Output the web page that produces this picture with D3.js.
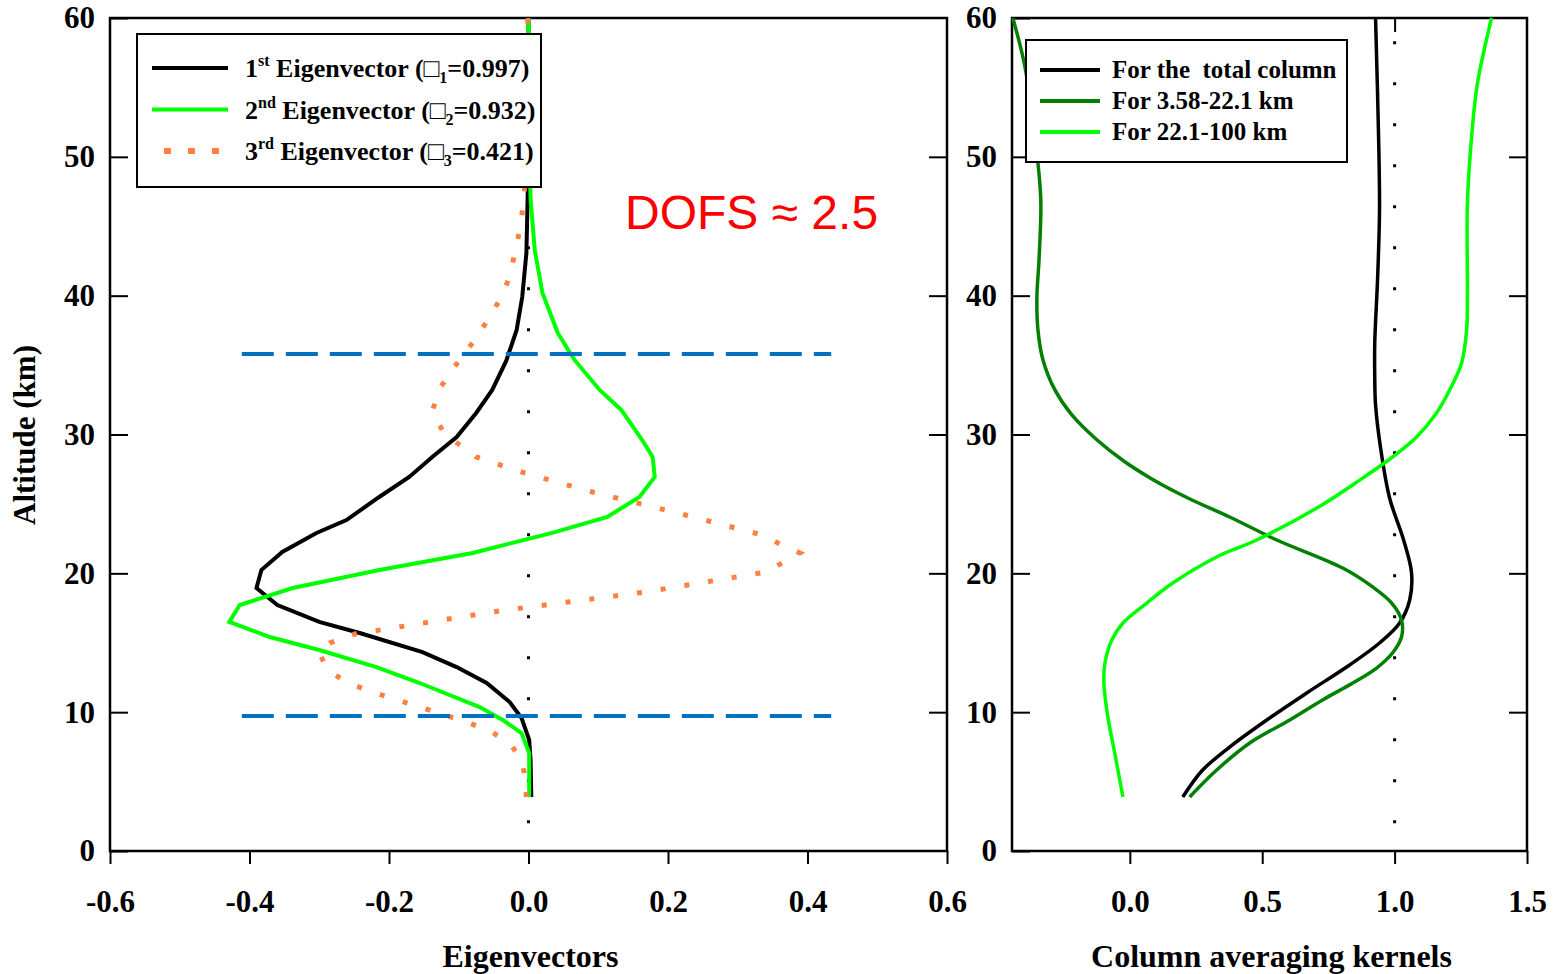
<!DOCTYPE html>
<html>
<head>
<meta charset="utf-8">
<script src="https://cdn.jsdelivr.net/npm/d3@7"></script>
<style>
  body { margin: 0; background: #fff; }
  svg { display: block; }
  .serif { font-family: 'Liberation Serif', 'Times New Roman', serif; font-weight: bold; }
</style>
</head>
<body>
<div id="chart"></div>
<script>
// eigenvectors, [value, altitude km]
const ev1 = [[0.004, 3.89], [0.003, 6.55], [0.001, 8.0], [-0.010, 9.58], [-0.027, 10.73], [-0.060, 12.10],
  [-0.103, 13.25], [-0.152, 14.33], [-0.242, 15.70], [-0.300, 16.50], [-0.360, 17.72], [-0.390, 18.94],
  [-0.383, 20.24], [-0.353, 21.54], [-0.304, 22.91], [-0.261, 23.84], [-0.214, 25.50], [-0.171, 26.94],
  [-0.138, 28.38], [-0.103, 29.82], [-0.075, 31.55], [-0.052, 33.21], [-0.032, 35.30], [-0.017, 37.53],
  [-0.009, 39.90], [-0.003, 43.07], [-0.001, 47.61], [0.0, 51.2], [0.0, 60]]
const ev2 = [[0.001, 3.89], [0.001, 7.06], [-0.010, 8.50], [-0.037, 9.44], [-0.070, 10.37], [-0.156, 12.10],
  [-0.218, 13.25], [-0.300, 14.48], [-0.371, 15.41], [-0.429, 16.50], [-0.414, 17.72], [-0.338, 18.94],
  [-0.214, 20.24], [-0.080, 21.47], [0.034, 22.91], [0.113, 24.06], [0.159, 25.50], [0.181, 26.94],
  [0.178, 28.38], [0.163, 29.60], [0.133, 31.77], [0.102, 33.21], [0.066, 35.37], [0.042, 37.31],
  [0.020, 40.19], [0.009, 43.29], [0.003, 46.89], [0.001, 50.49], [0.0, 60]]
const ev3 = [[-0.003, 3.89], [-0.006, 5.62], [-0.010, 6.55], [-0.023, 7.49], [-0.052, 8.57], [-0.089, 9.29],
  [-0.156, 10.37], [-0.224, 11.45], [-0.259, 12.10], [-0.281, 12.82], [-0.292, 13.40], [-0.300, 14.33],
  [-0.285, 14.98], [-0.249, 15.63], [-0.042, 17.29], [0.168, 18.66], [0.341, 20.10], [0.389, 21.47],
  [0.364, 22.04], [0.330, 22.83], [0.225, 24.20], [0.097, 25.79], [-0.006, 27.23], [-0.075, 28.38],
  [-0.087, 28.88], [-0.120, 29.96], [-0.138, 31.69], [-0.126, 33.42], [-0.102, 35.15], [-0.075, 36.95],
  [-0.053, 38.68], [-0.034, 40.34], [-0.024, 42.07], [-0.016, 43.87], [-0.010, 45.60], [-0.006, 47.32],
  [-0.003, 50.49], [-0.001, 60]]

// column averaging kernels, [value, altitude km]
const akTotal = [[0.200, 3.89], [0.275, 5.83], [0.377, 7.49], [0.528, 9.58], [0.668, 11.38], [0.830, 13.40],
  [0.943, 14.98], [1.019, 16.42], [1.057, 18.08], [1.064, 20.02], [1.034, 22.40], [0.981, 25.43],
  [0.947, 29.03], [0.928, 32.13], [0.925, 34.14], [0.925, 36.59], [0.936, 41.35], [0.943, 46.17],
  [0.940, 51.0], [0.928, 60]]
const akLow = [[0.226, 3.89], [0.328, 5.83], [0.453, 7.78], [0.604, 9.44], [0.728, 10.88], [0.842, 12.10],
  [0.932, 13.18], [0.992, 14.26], [1.026, 15.41], [1.026, 16.64], [0.989, 17.86], [0.917, 19.02],
  [0.804, 20.38], [0.555, 22.40], [0.377, 24.06], [0.219, 25.43], [0.083, 26.80], [-0.023, 28.09],
  [-0.128, 29.68], [-0.219, 31.41], [-0.283, 33.21], [-0.328, 35.37], [-0.347, 37.53], [-0.351, 39.90],
  [-0.343, 42.57], [-0.336, 46.68], [-0.347, 49.56], [-0.396, 56.47], [-0.442, 60]]
const akHigh = [[-0.026, 3.89], [-0.038, 5.11], [-0.057, 7.06], [-0.083, 9.65], [-0.098, 12.10], [-0.094, 13.54],
  [-0.068, 15.20], [-0.026, 16.42], [0.064, 17.86], [0.162, 19.30], [0.328, 21.18], [0.479, 22.40],
  [0.713, 24.78], [0.875, 26.80], [0.992, 28.38], [1.083, 29.82], [1.158, 31.55], [1.208, 33.21],
  [1.253, 35.15], [1.272, 37.53], [1.275, 40.19], [1.275, 46.68], [1.294, 52.15], [1.313, 55.32], [1.366, 60]]

const boundaryAlts = [35.8, 9.73]
const boundaryRange = [-0.411, 0.434]

const altTicks = [0, 10, 20, 30, 40, 50, 60]
const evTicks = [-0.6, -0.4, -0.2, 0, 0.2, 0.4, 0.6]
const akTicks = [0, 0.5, 1.0, 1.5]

const evLegend = [
  { ord: '1', sup: 'st', sub: '1', val: '0.997' },
  { ord: '2', sup: 'nd', sub: '2', val: '0.932' },
  { ord: '3', sup: 'rd', sub: '3', val: '0.421' }
]
const akLegend = ['For the  total column', 'For 3.58-22.1 km', 'For 22.1-100 km']

const width = 1554
const height = 974

const svg = d3.select('#chart').append('svg')
  .attr('width', width)
  .attr('height', height)

const y = d3.scaleLinear().domain([0, 60]).range([851, 18])
const xL = d3.scaleLinear().domain([-0.6, 0.6]).range([110, 947])
const xR = d3.scaleLinear().domain([-0.445, 1.5]).range([1012, 1527])

const fmt1 = d => d.toFixed(1)

function panel (x, xTicks, title) {
  const [x0, x1] = x.range()
  const g = svg.append('g')

  // dotted reference line
  const ref = x.domain()[0] < 0 && x.domain()[1] < 1 ? 0 : 1
  g.append('line')
    .attr('x1', x(ref)).attr('x2', x(ref))
    .attr('y1', y(2.0)).attr('y2', y(60))
    .attr('stroke', '#000')
    .attr('stroke-width', 3)
    .attr('stroke-dasharray', '3,38')

  const left = g.append('g').attr('transform', `translate(${x0},0)`)
    .call(d3.axisLeft(y).tickValues(altTicks).tickSize(-18).tickSizeOuter(0).tickPadding(15))
  const right = g.append('g').attr('transform', `translate(${x1},0)`)
    .call(d3.axisRight(y).tickValues(altTicks.slice(1, -1)).tickSize(-18).tickSizeOuter(0).tickFormat(''))
  const bottom = g.append('g').attr('transform', `translate(0,${y(0)})`)
    .call(d3.axisBottom(x).tickValues(xTicks).tickSize(13).tickSizeOuter(0).tickPadding(26).tickFormat(fmt1))
  const top = g.append('g').attr('transform', `translate(0,${y(60)})`)
    .call(d3.axisBottom(x).tickValues([ref]).tickSize(14).tickSizeOuter(0).tickFormat(''))

  ;[left, right, bottom, top].forEach(a => {
    a.select('.domain').remove()
    a.selectAll('line').attr('stroke-width', 2)
    a.selectAll('text')
      .attr('class', 'serif')
      .style('font-size', '31px')
      .attr('fill', '#000')
  })

  g.append('rect')
    .attr('x', x0).attr('y', y(60))
    .attr('width', x1 - x0).attr('height', y(0) - y(60))
    .attr('fill', 'none')
    .attr('stroke', '#000')
    .attr('stroke-width', 2.5)

  svg.append('text')
    .attr('class', 'serif')
    .attr('x', (x0 + x1) / 2 + 2)
    .attr('y', 967)
    .attr('text-anchor', 'middle')
    .style('font-size', '32px')
    .text(title)

  return g
}

const gL = panel(xL, evTicks, 'Eigenvectors')
const gR = panel(xR, akTicks, 'Column averaging kernels')

const line = x => d3.line().x(d => x(d[0])).y(d => y(d[1]))

// left panel curves
gL.append('path').datum(ev1).attr('d', line(xL))
  .attr('fill', 'none').attr('stroke', '#000').attr('stroke-width', 4)
gL.append('path').datum(ev2).attr('d', line(xL))
  .attr('fill', 'none').attr('stroke', '#00ff00').attr('stroke-width', 4)
gL.append('path').datum(ev3).attr('d', line(xL))
  .attr('fill', 'none').attr('stroke', '#ff8040').attr('stroke-width', 5)
  .attr('stroke-dasharray', '5,19')

gL.selectAll('.boundary')
  .data(boundaryAlts)
  .enter()
  .append('line')
  .attr('x1', xL(boundaryRange[0])).attr('x2', xL(boundaryRange[1]))
  .attr('y1', d => y(d)).attr('y2', d => y(d))
  .attr('stroke', '#0070c0')
  .attr('stroke-width', 4)
  .attr('stroke-dasharray', '32,12')

// right panel curves
const smooth = x => d3.line().curve(d3.curveCatmullRom.alpha(0.5)).x(d => x(d[0])).y(d => y(d[1]))
gR.append('path').datum(akTotal).attr('d', smooth(xR))
  .attr('fill', 'none').attr('stroke', '#000').attr('stroke-width', 3.5)
gR.append('path').datum(akLow).attr('d', smooth(xR))
  .attr('fill', 'none').attr('stroke', '#008000').attr('stroke-width', 3.5)
gR.append('path').datum(akHigh).attr('d', smooth(xR))
  .attr('fill', 'none').attr('stroke', '#00ff00').attr('stroke-width', 3.5)

// left legend
const legL = svg.append('g')
legL.append('rect')
  .attr('x', 137).attr('y', 34).attr('width', 404).attr('height', 153)
  .attr('fill', '#fff').attr('stroke', '#000').attr('stroke-width', 2)
const evStyles = [
  { color: '#000', dash: null, w: 4 },
  { color: '#00ff00', dash: null, w: 4 },
  { color: '#ff8040', dash: '7,17', w: 6 }
]
evLegend.forEach((d, i) => {
  const yy = 68 + i * 41.5
  legL.append('line')
    .attr('x1', evStyles[i].dash ? 164 : 152).attr('x2', 228)
    .attr('y1', yy).attr('y2', yy)
    .attr('stroke', evStyles[i].color)
    .attr('stroke-width', evStyles[i].w)
    .attr('stroke-dasharray', evStyles[i].dash)
  const t = legL.append('text')
    .attr('class', 'serif')
    .attr('x', 245).attr('y', yy + 9)
    .style('font-size', '26px')
  t.append('tspan').text(d.ord)
  t.append('tspan').attr('dy', -11).style('font-size', '16px').text(d.sup)
  t.append('tspan').attr('dy', 11).text(' Eigenvector (\u25A1')
  t.append('tspan').attr('dy', 6).style('font-size', '16px').text(d.sub)
  t.append('tspan').attr('dy', -6).text('=' + d.val + ')')
})

// right legend
const legR = svg.append('g')
legR.append('rect')
  .attr('x', 1026).attr('y', 40).attr('width', 321).attr('height', 122)
  .attr('fill', '#fff').attr('stroke', '#000').attr('stroke-width', 2)
const akColors = ['#000', '#008000', '#00ff00']
akLegend.forEach((d, i) => {
  const yy = 70 + i * 31
  legR.append('line')
    .attr('x1', 1040).attr('x2', 1100)
    .attr('y1', yy).attr('y2', yy)
    .attr('stroke', akColors[i])
    .attr('stroke-width', 4)
  legR.append('text')
    .attr('class', 'serif')
    .attr('x', 1112).attr('y', yy + 8)
    .style('font-size', '25px')
    .style('white-space', 'pre')
    .text(d)
})

// axis title and annotation
svg.append('text')
  .attr('class', 'serif')
  .attr('transform', 'translate(35,435) rotate(-90)')
  .attr('text-anchor', 'middle')
  .style('font-size', '31px')
  .text('Altitude (km)')

svg.append('text')
  .attr('x', 625).attr('y', 229)
  .style('font-family', "'Liberation Sans', Arial, sans-serif")
  .style('font-size', '48px')
  .attr('fill', '#ff0000')
  .text('DOFS \u2248 2.5')
</script>
</body>
</html>
